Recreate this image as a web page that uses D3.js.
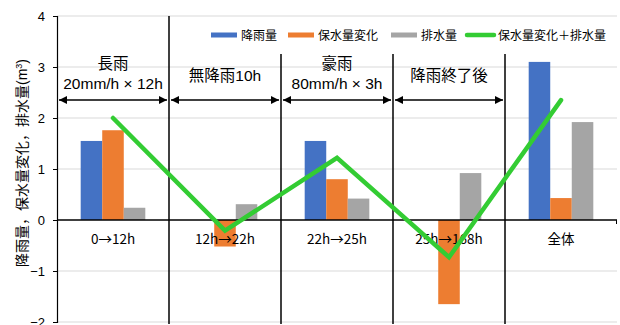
<!DOCTYPE html>
<html>
<head>
<meta charset="utf-8">
<script src="https://cdn.jsdelivr.net/npm/d3@7/dist/d3.min.js"></script>
<style>
  html, body { margin: 0; padding: 0; background: #fff; }
  svg { display: block; }
  text { font-family: "Liberation Sans", "Noto Sans CJK JP", sans-serif; fill: #000; }
</style>
</head>
<body>
<svg id="chart" width="620" height="325"></svg>
<script>
// Periods of the rain event and the overall total
const categories = ["0→12h", "12h→22h", "22h→25h", "25h→168h", "全体"];
const seriesNames = ["降雨量", "保水量変化", "排水量"];
const rainfall = [1.55, 0, 1.55, 0, 3.1];
const storageChange = [1.76, -0.52, 0.80, -1.65, 0.43];
const drainage = [0.24, 0.31, 0.42, 0.92, 1.92];
const storagePlusDrainage = [2.0, -0.21, 1.22, -0.73, 2.35];
const lineName = "保水量変化＋排水量";
const yTicks = [-2, -1, 0, 1, 2, 3, 4];
// Labels over the first four periods
const periodLabels = [["長雨", "20mm/h × 12h"], ["無降雨10h"], ["豪雨", "80mm/h × 3h"], ["降雨終了後"]];
const yTitle = "降雨量，保水量変化，排水量";

const colors = { "降雨量": "#4472C4", "保水量変化": "#ED7D31", "排水量": "#A5A5A5" };
const lineColor = "#33CC33";

const svg = d3.select("#chart");
const plotLeft = 57, plotRight = 617, plotTop = 16, plotBottom = 322;

const x = d3.scaleBand().domain(categories).range([plotLeft, plotRight]).padding(0);
const xs = d3.scaleBand().domain(seriesNames).range([0, x.bandwidth()]).paddingInner(0).paddingOuter(1.1);
const y = d3.scaleLinear().domain([-2, 4]).range([plotBottom, plotTop]);

// Horizontal gridlines
svg.append("g")
  .selectAll("line")
  .data(yTicks.filter(t => t !== 0))
  .join("line")
  .attr("x1", plotLeft).attr("x2", plotRight)
  .attr("y1", d => y(d)).attr("y2", d => y(d))
  .attr("stroke", "#d9d9d9").attr("stroke-width", 1);

// Bars
const table = categories.map((c, i) => ({
  cat: c,
  values: [rainfall[i], storageChange[i], drainage[i]]
}));
svg.append("g")
  .selectAll("g")
  .data(table)
  .join("g")
  .attr("transform", d => `translate(${x(d.cat)},0)`)
  .selectAll("rect")
  .data(d => d.values.map((v, j) => ({ key: seriesNames[j], v })))
  .join("rect")
  .attr("x", d => xs(d.key))
  .attr("width", xs.bandwidth())
  .attr("y", d => y(Math.max(0, d.v)))
  .attr("height", d => Math.abs(y(d.v) - y(0)))
  .attr("fill", d => colors[d.key]);

// Y axis
const yAxis = d3.axisLeft(y).tickValues(yTicks).tickSize(4).tickPadding(8)
  .tickFormat(d => d < 0 ? "−" + Math.abs(d) : d);
const gy = svg.append("g").attr("transform", `translate(${plotLeft},0)`).call(yAxis);
gy.select(".domain").attr("stroke", "#000").attr("stroke-width", 1.2);
gy.selectAll(".tick line").attr("stroke", "#000");
gy.selectAll(".tick text").attr("font-size", 13).attr("fill", "#000")
  .style("font-family", "'Liberation Sans', sans-serif");

// Zero baseline
svg.append("line")
  .attr("x1", plotLeft).attr("x2", plotRight)
  .attr("y1", y(0)).attr("y2", y(0))
  .attr("stroke", "#000").attr("stroke-width", 1.5);
svg.append("line")
  .attr("x1", plotRight - 0.5).attr("x2", plotRight - 0.5)
  .attr("y1", y(0)).attr("y2", y(0) + 4)
  .attr("stroke", "#000").attr("stroke-width", 1);

// Period dividers
const dividers = categories.slice(1).map(c => x(c));
svg.append("g")
  .selectAll("line")
  .data(dividers)
  .join("line")
  .attr("x1", d => d).attr("x2", d => d)
  .attr("y1", (d, i) => i === 0 ? plotTop : 54)
  .attr("y2", plotBottom + 2)
  .attr("stroke", "#000").attr("stroke-width", 1.5);

// Category labels
svg.append("g")
  .selectAll("text")
  .data(categories)
  .join("text")
  .attr("x", d => x(d) + x.bandwidth() / 2)
  .attr("y", y(0) + 24)
  .attr("text-anchor", "middle")
  .attr("font-size", 13.5)
  .style("font-family", "'Noto Sans CJK JP', sans-serif")
  .text(d => d);

// Double-headed arrows and period descriptions
const defs = svg.append("defs");
defs.append("marker").attr("id", "arrowEnd")
  .attr("viewBox", "0 0 10 10").attr("refX", 10).attr("refY", 5)
  .attr("markerWidth", 8).attr("markerHeight", 8).attr("markerUnits", "userSpaceOnUse")
  .attr("orient", "auto")
  .append("path").attr("d", "M0,0 L10,5 L0,10 Z").attr("fill", "#000");
defs.append("marker").attr("id", "arrowStart")
  .attr("viewBox", "0 0 10 10").attr("refX", 0).attr("refY", 5)
  .attr("markerWidth", 8).attr("markerHeight", 8).attr("markerUnits", "userSpaceOnUse")
  .attr("orient", "auto")
  .append("path").attr("d", "M10,0 L0,5 L10,10 Z").attr("fill", "#000");

const arrowY = 100;
const periods = svg.append("g")
  .selectAll("g")
  .data(periodLabels)
  .join("g");
periods.append("line")
  .attr("x1", (d, i) => x(categories[i]) + 2)
  .attr("x2", (d, i) => x(categories[i]) + x.bandwidth() - 2)
  .attr("y1", arrowY).attr("y2", arrowY)
  .attr("stroke", "#000").attr("stroke-width", 1.5)
  .attr("marker-start", "url(#arrowStart)")
  .attr("marker-end", "url(#arrowEnd)");
periods.each(function (d, i) {
  const cx = x(categories[i]) + x.bandwidth() / 2;
  const g = d3.select(this);
  if (d.length === 2) {
    g.append("text").attr("x", cx).attr("y", 69).attr("text-anchor", "middle")
      .attr("font-size", 15.5).text(d[0]);
    g.append("text").attr("x", cx).attr("y", 89).attr("text-anchor", "middle")
      .attr("font-size", 15.5).text(d[1]);
  } else {
    g.append("text").attr("x", cx).attr("y", 81).attr("text-anchor", "middle")
      .attr("font-size", 15.5).text(d[0]);
  }
});

// Storage change + drainage line
const line = d3.line()
  .x((d, i) => x(categories[i]) + x.bandwidth() / 2)
  .y(d => y(d));
svg.append("path")
  .datum(storagePlusDrainage)
  .attr("d", line)
  .attr("fill", "none")
  .attr("stroke", lineColor)
  .attr("stroke-width", 4.5)
  .attr("stroke-linecap", "round")
  .attr("stroke-linejoin", "miter");

// Legend
const legendItems = [
  { name: seriesNames[0], x: 211, type: "rect" },
  { name: seriesNames[1], x: 288, type: "rect" },
  { name: seriesNames[2], x: 391, type: "rect" },
  { name: lineName, x: 467, type: "line" }
];
const legend = svg.append("g");
legendItems.forEach(it => {
  if (it.type === "rect") {
    legend.append("rect").attr("x", it.x).attr("y", 32.5).attr("width", 26).attr("height", 5)
      .attr("fill", colors[it.name]);
    legend.append("text").attr("x", it.x + 30).attr("y", 39.5).attr("font-size", 12).text(it.name);
  } else {
    legend.append("line").attr("x1", it.x).attr("x2", it.x + 27).attr("y1", 35).attr("y2", 35)
      .attr("stroke", lineColor).attr("stroke-width", 4.5).attr("stroke-linecap", "round");
    legend.append("text").attr("x", it.x + 31).attr("y", 39.5).attr("font-size", 12).text(it.name);
  }
});

// Y axis title
const yt = svg.append("text")
  .attr("transform", `translate(27,163) rotate(-90)`)
  .attr("text-anchor", "middle")
  .attr("font-size", 14);
yt.append("tspan").text(yTitle);
yt.append("tspan").text("(m");
yt.append("tspan").attr("font-size", 9).attr("dy", -5).text("3");
yt.append("tspan").attr("dy", 5).text(")");
</script>
</body>
</html>
